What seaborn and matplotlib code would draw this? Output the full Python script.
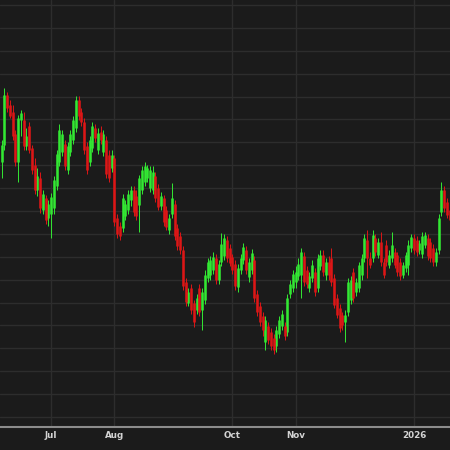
import numpy as np
import pandas as pd
import matplotlib
matplotlib.use("Agg")
import matplotlib.pyplot as plt
import seaborn as sns

# ---- data (daily OHLC, business days starting 2025-06-05) ----
open_ = [338, 355, 405, 395, 388, 366, 338, 380, 380, 354, 374, 352, 335, 310, 322, 290, 302, 282,
         286, 292, 314, 338, 348, 356, 330, 348, 360, 372, 400, 388, 378, 354, 338, 352, 372, 350,
         368, 348, 360, 345, 332, 342, 282, 274, 272, 284, 290, 300, 310, 304, 295, 310, 318, 322,
         312, 310, 324, 312, 294, 302, 290, 270, 286, 296, 272, 264, 250, 218, 197, 212, 197, 190,
         212, 190, 200, 222, 225, 230, 242, 220, 238, 244, 260, 252, 243, 236, 213, 230, 240, 250,
         223, 230, 240, 206, 194, 184, 158, 174, 168, 162, 154, 166, 174, 174, 168, 206, 212, 218,
         224, 225, 244, 230, 212, 222, 228, 212, 234, 245, 225, 238, 242, 222, 202, 192, 185, 178,
         188, 200, 228, 208, 212, 225, 242, 260, 242, 242, 262, 245, 258, 238, 255, 235, 242, 248,
         245, 238, 225, 232, 235, 252, 262, 260, 250, 246, 255, 262, 258, 252, 238, 250, 288, 310,
         298, 290]
close = [355, 405, 392, 384, 364, 338, 382, 387, 354, 364, 350, 330, 310, 324, 292, 306, 280, 296,
         303, 320, 346, 370, 366, 334, 354, 366, 380, 400, 384, 378, 350, 330, 360, 374, 362, 367,
         360, 366, 326, 322, 345, 278, 266, 264, 302, 296, 306, 310, 288, 284, 322, 330, 334, 332,
         330, 328, 302, 293, 304, 278, 273, 282, 302, 264, 254, 250, 214, 198, 208, 190, 178, 202,
         188, 208, 225, 238, 240, 243, 220, 236, 256, 262, 242, 237, 230, 214, 232, 242, 253, 230,
         238, 247, 202, 188, 178, 170, 180, 160, 154, 150, 170, 180, 186, 164, 202, 216, 226, 228,
         236, 248, 218, 216, 224, 235, 208, 242, 245, 228, 238, 225, 218, 195, 185, 172, 175, 185,
         218, 220, 202, 218, 235, 242, 262, 242, 235, 265, 248, 258, 238, 225, 238, 245, 255, 235,
         228, 224, 235, 245, 255, 263, 250, 248, 257, 264, 265, 244, 242, 238, 248, 282, 310, 292,
         285, 280]
high = [360, 412, 408, 400, 395, 370, 385, 390, 388, 372, 378, 355, 342, 332, 328, 310, 305, 300,
        307, 324, 350, 376, 370, 360, 358, 370, 384, 404, 404, 392, 382, 358, 364, 378, 376, 372,
        374, 370, 364, 350, 350, 345, 286, 278, 306, 300, 310, 314, 314, 310, 325, 334, 338, 335,
        334, 334, 328, 316, 308, 305, 294, 286, 317, 300, 276, 268, 254, 222, 212, 216, 200, 206,
        216, 212, 230, 242, 244, 248, 246, 240, 267, 266, 264, 256, 246, 240, 236, 246, 257, 254,
        242, 251, 244, 210, 198, 188, 184, 178, 172, 166, 174, 184, 190, 178, 206, 220, 230, 234,
        242, 252, 248, 234, 228, 240, 232, 246, 250, 250, 242, 244, 252, 226, 206, 196, 188, 190,
        222, 224, 232, 222, 238, 246, 266, 270, 248, 270, 266, 262, 268, 242, 260, 250, 268, 252,
        248, 242, 238, 248, 260, 266, 266, 264, 260, 268, 268, 266, 262, 256, 252, 286, 318, 314,
        302, 295]
low = [322, 350, 388, 382, 360, 334, 318, 364, 350, 350, 347, 326, 306, 304, 287, 286, 276, 274,
       262, 286, 310, 334, 344, 330, 326, 344, 356, 368, 380, 374, 346, 326, 334, 348, 358, 346,
       356, 344, 322, 318, 328, 274, 262, 260, 268, 280, 286, 294, 284, 280, 268, 306, 314, 318,
       308, 306, 298, 290, 290, 274, 270, 266, 282, 260, 250, 246, 210, 194, 194, 186, 173, 186,
       184, 170, 196, 218, 220, 226, 216, 216, 234, 240, 238, 234, 226, 210, 208, 226, 236, 226,
       218, 226, 198, 184, 174, 164, 150, 156, 150, 146, 148, 162, 170, 160, 164, 202, 208, 212,
       220, 202, 214, 212, 208, 218, 204, 208, 230, 224, 220, 220, 214, 192, 182, 168, 170, 158,
       184, 196, 198, 204, 208, 220, 238, 222, 232, 238, 244, 242, 234, 222, 234, 232, 238, 232,
       224, 220, 222, 228, 225, 248, 246, 244, 246, 242, 252, 240, 238, 234, 234, 246, 284, 288,
       282, 276]

tick_months = ["2025-07-01", "2025-08-01", "2025-10-01", "2025-11-03", "2026-01-01"]
tick_labels = ["Jul", "Aug", "Oct", "Nov", "2026"]

# ---- styling ----
BG = "#1b1b1b"
GRID = "#2d2d2d"
UP = "#33e833"
DOWN = "#dd1616"
TXT = "#d4d4d4"

sns.set_theme(style="dark", rc={"axes.facecolor": BG, "figure.facecolor": BG})

n = len(close)
dates = pd.bdate_range("2025-06-05", periods=n)
pos = np.arange(n)
o = np.array(open_, float)
c = np.array(close, float)
direction = np.where(c >= o, "up", "down")

wicks = pd.DataFrame({
    "pos": np.repeat(pos, 2),
    "price": np.column_stack([low, high]).ravel(),
    "dir": np.repeat(direction, 2),
})
bodies = pd.DataFrame({
    "pos": np.repeat(pos, 2),
    "price": np.column_stack([np.minimum(o, c), np.maximum(o, c)]).ravel(),
    "dir": np.repeat(direction, 2),
})

fig = plt.figure(figsize=(4.5, 4.5), dpi=100, facecolor=BG)
ax = fig.add_axes([0, 23 / 450, 1, 427 / 450])
ax.set_facecolor(BG)

pal = {"up": UP, "down": DOWN}
sns.lineplot(data=wicks, x="pos", y="price", units="pos", hue="dir", palette=pal,
             estimator=None, sort=False, linewidth=0.7, legend=False, ax=ax,
             solid_capstyle="butt")
sns.lineplot(data=bodies, x="pos", y="price", units="pos", hue="dir", palette=pal,
             estimator=None, sort=False, linewidth=1.85, legend=False, ax=ax,
             solid_capstyle="butt")

ax.set_xlim(-0.55, 163.1)
ax.set_ylim(73, 500)
ax.set_yticks(83 + 22.89 * np.arange(19))
ax.set_yticklabels([])

tick_pos = [int(np.searchsorted(dates, pd.Timestamp(d))) for d in tick_months]
ax.set_xticks(tick_pos)
ax.set_xticklabels(tick_labels, color=TXT, fontsize=6.3, fontweight="bold")
ax.tick_params(axis="both", length=0, pad=3.0)

ax.grid(True, color=GRID, linewidth=1.0)
ax.set_axisbelow(True)
for s in ["left", "right", "top"]:
    ax.spines[s].set_visible(False)
ax.spines["bottom"].set_visible(True)
ax.spines["bottom"].set_color("#8c8c8c")
ax.spines["bottom"].set_linewidth(1.5)
ax.set_xlabel("")
ax.set_ylabel("")

fig.savefig("out.png", dpi=100, facecolor=BG)
